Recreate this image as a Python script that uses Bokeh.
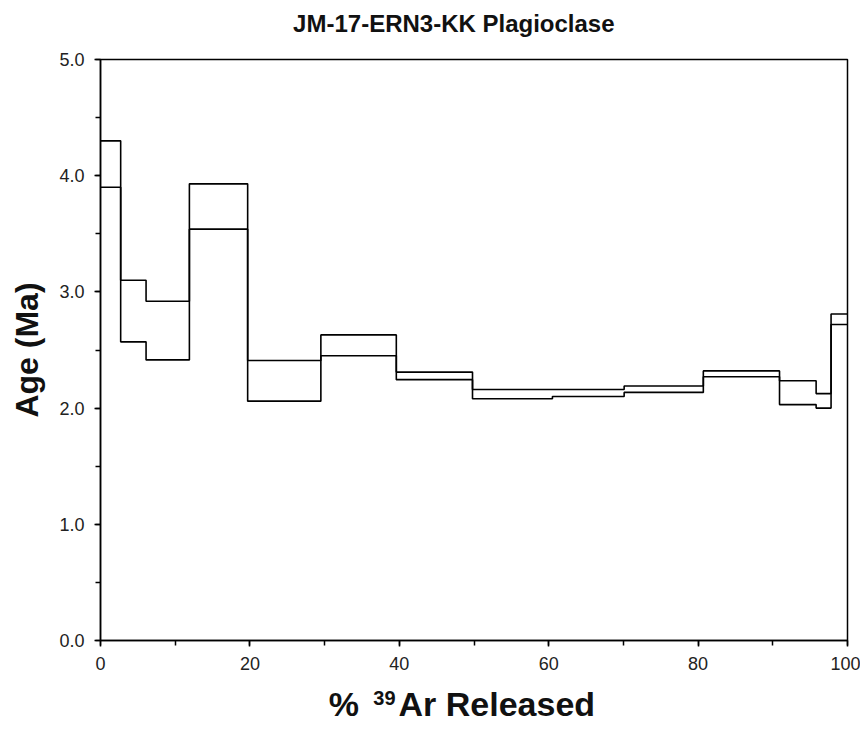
from bokeh.plotting import figure
from bokeh.embed import file_html
from bokeh.resources import INLINE
from bokeh.layouts import column
from bokeh.core.properties import value
from bokeh.models import SingleIntervalTicker, Range1d, NumeralTickFormatter

# % 39Ar released: left edge of each heating step (last value closes the spectrum)
cum_edges = [0.0, 2.7, 6.1, 11.9, 19.7, 29.5, 39.6, 49.8, 60.5, 70.1, 80.7, 90.9, 95.8, 97.8, 100.0]
# Age (Ma), upper and lower bound (age +/- error) for each step
age_upper = [4.30, 3.10, 2.92, 3.93, 2.41, 2.63, 2.31, 2.16, 2.16, 2.19, 2.32, 2.235, 2.125, 2.81]
age_lower = [3.90, 2.57, 2.415, 3.54, 2.06, 2.45, 2.245, 2.08, 2.10, 2.135, 2.27, 2.03, 2.00, 2.72]

title_text = "JM-17-ERN3-KK Plagioclase"
x_label_parts = ["%", "39", "Ar Released"]
y_label = "Age (Ma)"

FONT = "Liberation Sans"
W = 860
LEFT, RIGHT = 100, 13

xr = Range1d(0, 100)

# ---- title strip ----
tfig = figure(width=W, height=40, output_backend="svg", toolbar_location=None,
              x_range=xr, y_range=Range1d(0, 40), x_axis_type=None, y_axis_type=None,
              min_border_left=LEFT, min_border_right=RIGHT, min_border_top=0, min_border_bottom=0)
tfig.outline_line_color = None
tfig.grid.visible = False
tfig.text(x=[47.3], y=[17.5], text=[title_text], text_align="center", text_baseline="middle",
          text_font=value(FONT), text_font_style="bold", text_font_size="24px", text_color="#111111")

# ---- main plot ----
p = figure(width=W, height=638, output_backend="svg", toolbar_location=None,
           x_range=xr, y_range=Range1d(0, 5),
           min_border_left=LEFT, min_border_right=RIGHT, min_border_top=19, min_border_bottom=38)

ys_up = age_upper + [age_upper[-1]]
ys_lo = age_lower + [age_lower[-1]]
p.step(x=cum_edges, y=ys_up, mode="after", line_color="black", line_width=1.6)
p.step(x=cum_edges, y=ys_lo, mode="after", line_color="black", line_width=1.6)

p.grid.visible = False
p.outline_line_color = "black"
p.outline_line_width = 1.5

p.xaxis.ticker = SingleIntervalTicker(interval=20, num_minor_ticks=2)
p.yaxis.ticker = SingleIntervalTicker(interval=1, num_minor_ticks=2)
p.yaxis.formatter = NumeralTickFormatter(format="0.0")

for ax in (p.xaxis, p.yaxis):
    ax.axis_line_color = "black"
    ax.axis_line_width = 1.5
    ax.major_tick_line_color = "black"
    ax.minor_tick_line_color = "black"
    ax.major_tick_line_width = 1.5
    ax.minor_tick_line_width = 1.5
    ax.major_tick_in = 0
    ax.major_tick_out = 6
    ax.minor_tick_in = 0
    ax.minor_tick_out = 5
    ax.major_label_text_font = FONT
    ax.major_label_text_font_size = "18px"
    ax.major_label_text_color = "#222222"
    ax.major_label_standoff = 10
    ax.axis_label_text_font = FONT
    ax.axis_label_text_font_style = "bold"
    ax.axis_label_text_font_size = "32px"
    ax.axis_label_text_color = "#111111"

p.yaxis.axis_label = y_label
p.yaxis.axis_label_standoff = 11

# ---- x-axis title strip (with a real superscript) ----
lfig = figure(width=W, height=45, output_backend="svg", toolbar_location=None,
              x_range=xr, y_range=Range1d(0, 45), x_axis_type=None, y_axis_type=None,
              min_border_left=LEFT, min_border_right=RIGHT, min_border_top=0, min_border_bottom=0)
lfig.outline_line_color = None
lfig.grid.visible = False
common = dict(text_font=value(FONT), text_font_style="bold", text_color="#111111",
              text_baseline="middle")
lfig.text(x=[34.6], y=[19.5], text=[x_label_parts[0]], text_align="right", text_font_size="34px", **common)
lfig.text(x=[39.5], y=[25.5], text=[x_label_parts[1]], text_align="right", text_font_size="20px", **common)
lfig.text(x=[39.9], y=[19.5], text=[x_label_parts[2]], text_align="left", text_font_size="34px", **common)

layout = column(tfig, p, lfig, spacing=0)
open("out.html", "w").write(file_html(layout, INLINE))
